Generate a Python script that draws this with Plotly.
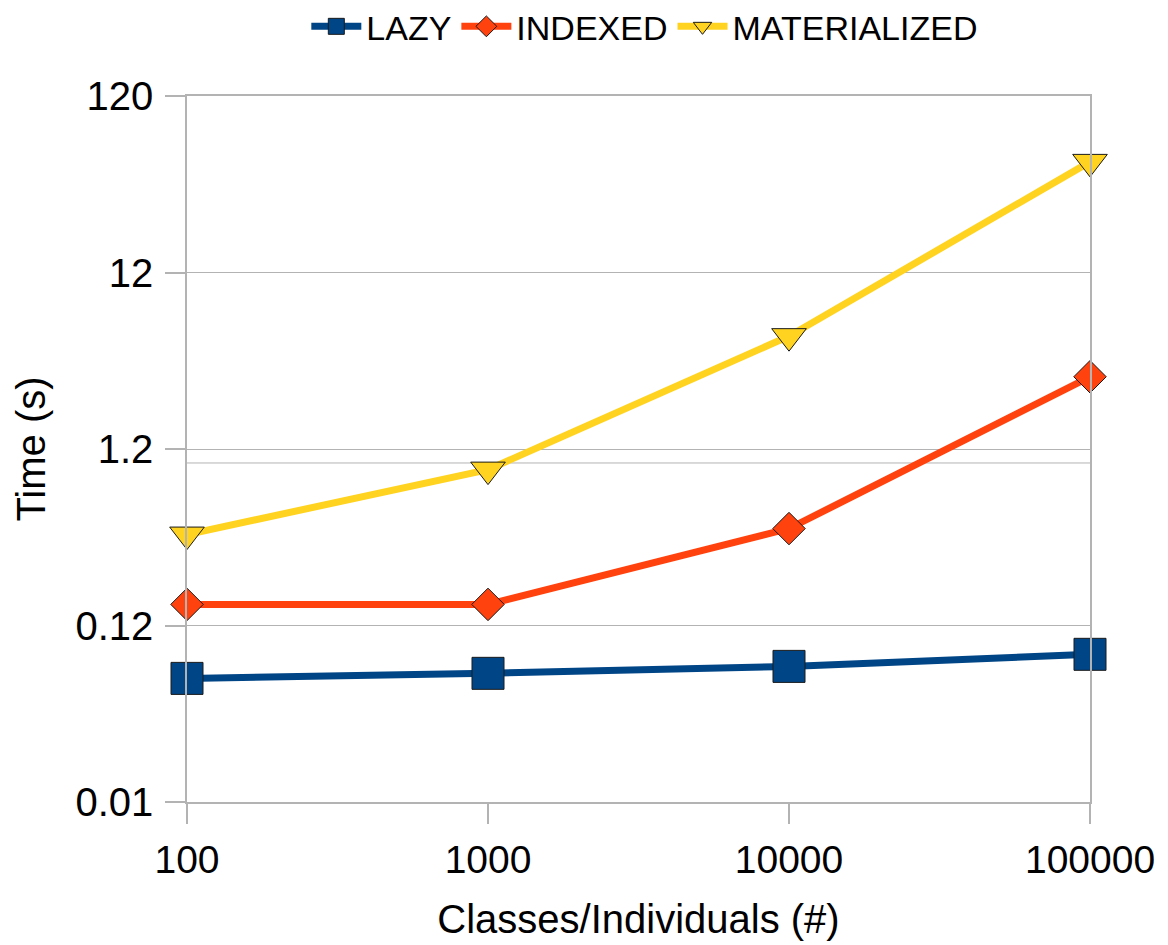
import plotly.graph_objects as go

x_vals = [100, 1000, 10000, 100000]
x_labels = ["100", "1000", "10000", "100000"]

lazy = [0.0602, 0.0643, 0.0704, 0.0824]
indexed = [0.158, 0.158, 0.425, 3.08]
materialized = [0.393, 0.917, 5.23, 50.8]

y_tickvals = [0.012, 0.12, 1.2, 12, 120]
y_ticktext = ["0.01", "0.12", "1.2", "12", "120"]
extra_gridline = 1.0

series = [
    ("LAZY", lazy, "#004586", "square", 32),
    ("INDEXED", indexed, "#ff420e", "diamond", 25),
    ("MATERIALIZED", materialized, "#ffd320", "triangle-down", 30),
]

fig = go.Figure()
for name, vals, color, sym, size in series:
    fig.add_trace(go.Scatter(
        x=x_vals, y=vals, name=name, mode="lines+markers",
        line=dict(color=color, width=7),
        marker=dict(symbol=sym, size=size, color=color,
                    line=dict(color="#1a1a1a", width=1)),
        cliponaxis=False,
    ))

fig.add_shape(type="line", xref="paper", yref="y", x0=0, x1=1,
              y0=extra_gridline, y1=extra_gridline,
              line=dict(color="#b3b3b3", width=1), layer="below")

font_family = "Liberation Sans, Arial, sans-serif"
# page body has an 8px default margin, so the figure is 8px smaller
fig.update_layout(
    width=1160, height=937,
    margin=dict(l=179, r=78, t=88, b=143, autoexpand=False),
    paper_bgcolor="white", plot_bgcolor="white",
    font=dict(family=font_family, color="black"),
    legend=dict(orientation="h", x=0.507, xanchor="center",
                yref="container", y=0.98, yanchor="middle",
                font=dict(size=34), itemwidth=50, tracegroupgap=0),
    xaxis=dict(
        type="log", range=[2, 5], tickvals=x_vals, ticktext=x_labels,
        showgrid=False, showline=True, linecolor="#b3b3b3", linewidth=1.5,
        mirror=True, ticks="outside", ticklen=20, tickcolor="#b3b3b3",
        tickwidth=1.5, tickfont=dict(size=39), ticklabelstandoff=2,
        title=dict(text="Classes/Individuals (#)", font=dict(size=40),
                   standoff=25),
        zeroline=False, automargin=False,
    ),
    yaxis=dict(
        type="log", range=[-1.9208, 2.0792], tickvals=y_tickvals,
        ticktext=y_ticktext, showgrid=True, gridcolor="#b3b3b3",
        gridwidth=1, showline=True, linecolor="#b3b3b3", linewidth=1.5,
        mirror=True, ticks="outside", ticklen=20, tickcolor="#b3b3b3",
        tickwidth=1.5, tickfont=dict(size=40), ticklabelstandoff=4,
        title=dict(text="Time (s)", font=dict(size=40), standoff=17),
        zeroline=False, automargin=False,
    ),
)

fig.write_html("out.html")
